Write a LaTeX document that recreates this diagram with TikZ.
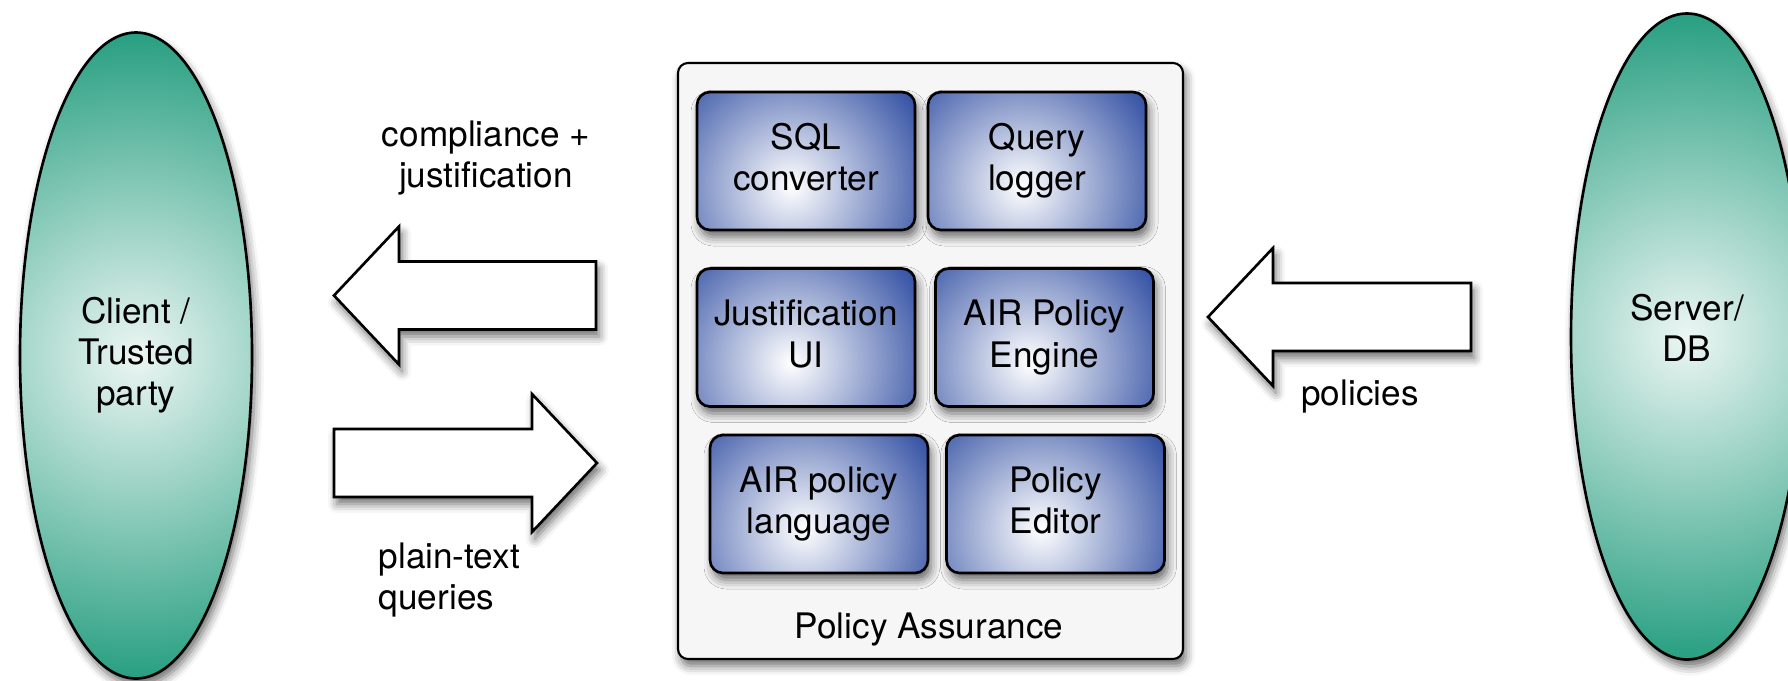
\documentclass[tikz,border=0pt]{standalone}
\usepackage{fontspec}
\setmainfont{TeX Gyre Heros}
\usetikzlibrary{shapes.geometric,shadows.blur}

\definecolor{partyEdge}{RGB}{40,159,129}
\definecolor{partyCore}{RGB}{236,246,243}
\definecolor{moduleEdge}{RGB}{46,76,161}
\colorlet{assuranceBg}{gray!7}

\tikzset{
  softshadow/.style={blur shadow={shadow xshift=0.3mm, shadow yshift=-0.7mm,
      shadow blur radius=0.9mm, shadow opacity=58}},
  party/.style={ellipse, draw, line width=0.75pt, inner sep=0pt, align=center,
    minimum width=23.2mm, minimum height=64.6mm, softshadow,
    path picture={\shade[inner color=partyCore, outer color=partyEdge]
      (path picture bounding box.center) circle (32.3mm);}},
  module/.style={draw, line width=0.75pt, rounded corners=1.3mm, inner sep=0pt, align=center,
    minimum width=21.8mm, minimum height=13.8mm, text depth=2.2pt, softshadow,
    path picture={\shade[inner color=white, outer color=moduleEdge]
      ([shift={(-1.5mm,-2.5mm)}]path picture bounding box.center) circle (15.5mm);}},
  assurancebox/.style={draw, line width=0.6pt, rounded corners=1mm, fill=assuranceBg,
    minimum width=50.5mm, minimum height=59.6mm, softshadow},
  flow/.style={draw, line width=0.75pt, fill=white, softshadow},
  flowtext/.style={inner sep=0pt, align=center}
}

% block arrow: tip x, centre y, tail x
\newcommand{\flowarrow}[3]{
  \pgfmathsetmacro{\tipx}{#1}
  \pgfmathsetmacro{\midy}{#2}
  \pgfmathsetmacro{\tailx}{#3}
  \pgfmathsetmacro{\neckx}{\tipx + 65 * sign(\tailx - \tipx)}

  \draw[flow] (\tipx, \midy) -- (\neckx, \midy - 69) -- (\neckx, \midy - 34)
    -- (\tailx, \midy - 34) -- (\tailx, \midy + 34) -- (\neckx, \midy + 34)
    -- (\neckx, \midy + 69) -- cycle;
}

\begin{document}
\begin{tikzpicture}[x=0.1mm, y=-0.1mm, font=\fontsize{10pt}{11.7pt}\selectfont]
  \useasboundingbox (0,0) rectangle (1788,680);

  \node[party] (client) at (136, 355.5) {Client /\\Trusted\\party};
  \node[party, text depth=5pt] (server) at (1687, 336.5) {Server/\\DB};

  \node[assurancebox] (assurance) at (930.5, 361) {};
  \node[flowtext, anchor=base] (assurancename) at (929, 638) {Policy Assurance};

  \node[module] (sqlconv) at (806, 161) {SQL\\converter};
  \node[module] (querylog) at (1037, 161) {Query\\logger};

  \node[module] (justui) at (806, 337.5) {Justification\\UI};
  \node[module] (airengine) at (1044.5, 337.5) {AIR Policy\\Engine};

  \node[module] (airlang) at (819, 504) {AIR policy\\language};
  \node[module] (poleditor) at (1055.5, 504) {Policy\\Editor};

  \flowarrow{334}{295.5}{596}
  \flowarrow{597}{463}{334}
  \flowarrow{1208}{317}{1471}

  \node[flowtext] (answerlabel) at (486, 158) {compliance +\\justification};
  \node[flowtext, anchor=west, align=left] (querylabel) at (378, 580) {plain-text\\queries};
  \node[flowtext, anchor=base] (policylabel) at (1360, 405) {policies};
\end{tikzpicture}
\end{document}
